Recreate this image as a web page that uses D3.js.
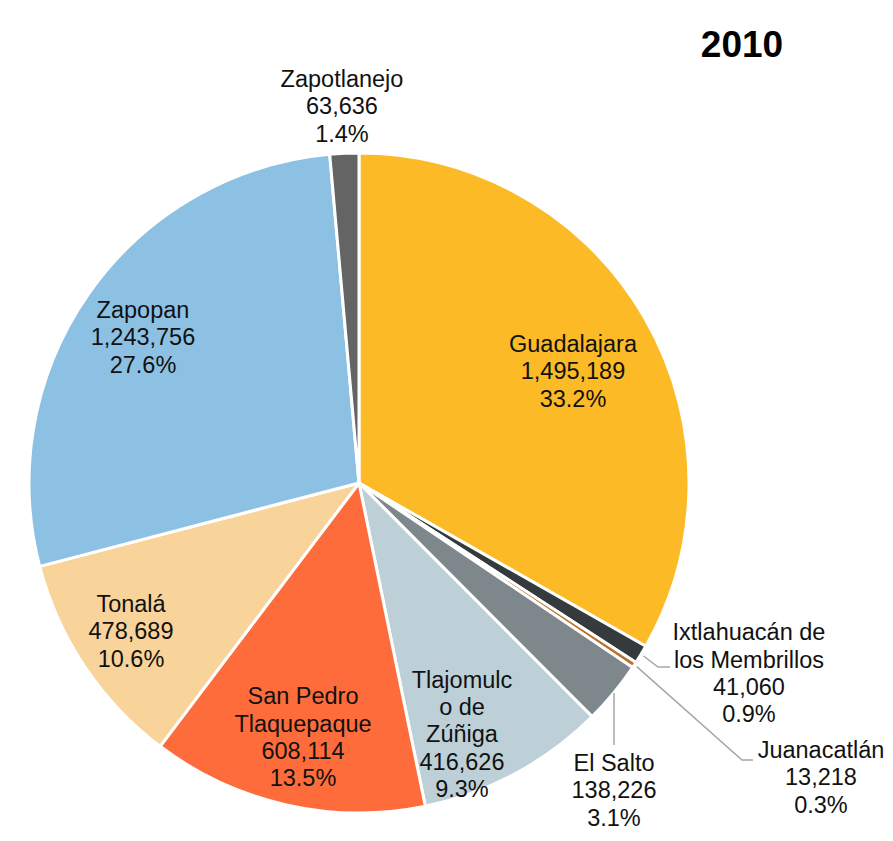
<!DOCTYPE html>
<html>
<head>
<meta charset="utf-8">
<script src="https://d3js.org/d3.v7.min.js"></script>
<style>
  body { margin:0; background:#fff; }
  .lbl { font: 23.5px "Liberation Sans", Arial, sans-serif; fill:#111; }
  .title { font: bold 37px "Liberation Sans", Arial, sans-serif; fill:#000; }
</style>
</head>
<body>
<script>
// data, clockwise from 12 o'clock
var municipios = ["Guadalajara", "Ixtlahuacán de los Membrillos", "Juanacatlán", "El Salto",
                  "Tlajomulco de Zúñiga", "San Pedro Tlaquepaque", "Tonalá", "Zapopan", "Zapotlanejo"];
var poblacion = [1495189, 41060, 13218, 138226, 416626, 608114, 478689, 1243756, 63636];
var porcentaje = ["33.2%", "0.9%", "0.3%", "3.1%", "9.3%", "13.5%", "10.6%", "27.6%", "1.4%"];
var colores = ["#FBBA26", "#353A3D", "#B8732A", "#7E878C", "#BDCFD7", "#FF6C3B", "#F8D39A", "#8DC1E4", "#646464"];

// label layout (lines as shown + centre of text block)
var labelLines = [
  ["Guadalajara"], ["Ixtlahuacán de", "los Membrillos"], ["Juanacatlán"], ["El Salto"],
  ["Tlajomulc", "o de", "Zúñiga"], ["San Pedro", "Tlaquepaque"], ["Tonalá"], ["Zapopan"], ["Zapotlanejo"]
];
var labelXY = [[573,371],[749,673],[821,777],[614,790],[462,734],[303,737],[131,631],[143,337],[342,106]];

var W = 893, H = 841, cx = 359, cy = 483, R = 330, lh = 27.3;

var svg = d3.select("body").append("svg").attr("width", W).attr("height", H);

svg.append("text").attr("class","title").attr("x",742).attr("y",57)
  .attr("text-anchor","middle").text("2010");

var pie = d3.pie().sort(null).value(function(d){ return d; });
var arcs = pie(poblacion);
var arc = d3.arc().innerRadius(0).outerRadius(R);

var g = svg.append("g").attr("transform","translate("+cx+","+cy+")");
g.selectAll("path").data(arcs).enter().append("path")
  .attr("d", arc)
  .attr("fill", function(d,i){ return colores[i]; })
  .attr("stroke","#fff").attr("stroke-width",3).attr("stroke-linejoin","round");

// leader lines for small slices
function edge(i, r){
  var a = (arcs[i].startAngle + arcs[i].endAngle)/2;
  return [cx + r*Math.sin(a), cy - r*Math.cos(a)];
}
var leaders = [
  [edge(1, R+3), [658,667], [670,667]],
  [edge(2, R+3), [742,760], [753,760]],
  [[614,693], [614,745]]
];
leaders.forEach(function(pts){
  svg.append("path").attr("d", d3.line()(pts))
    .attr("fill","none").attr("stroke","#A6A6A6").attr("stroke-width",1.5);
});

arcs.forEach(function(d,i){
  var lines = labelLines[i].concat([d3.format(",")(poblacion[i]), porcentaje[i]]);
  var x = labelXY[i][0], y0 = labelXY[i][1] - (lines.length-1)*lh/2;
  var t = svg.append("text").attr("class","lbl").attr("text-anchor","middle");
  lines.forEach(function(s,k){
    t.append("tspan").attr("x",x).attr("y", y0 + k*lh).attr("dy","0.35em").text(s);
  });
});
</script>
</body>
</html>
